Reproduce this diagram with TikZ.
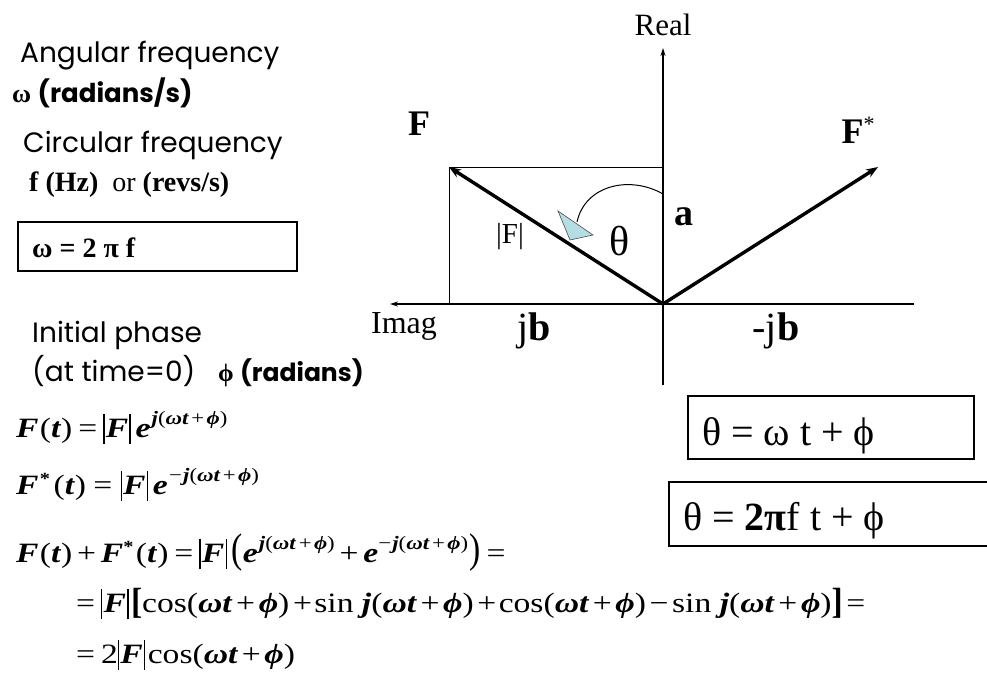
\documentclass[tikz,border=0pt]{standalone}
\usepackage{fontspec}
\setmainfont{Liberation Serif}
\newfontfamily\gothic{Poppins}
\usetikzlibrary{arrows.meta}
\definecolor{triblue}{RGB}{180,222,228}
\newcommand{\bi}[1]{\textbf{\textit{#1}}}
\newcommand{\fsz}[1]{\fontsize{#1}{#1}\selectfont}
\newcommand{\absb}{\rule[-7pt]{1.1pt}{30pt}}
\newcommand{\sups}[1]{\raisebox{13pt}{\fsz{19}#1}}
\newcommand{\stars}{\raisebox{10pt}{\fsz{17}\bfseries *}}
\newcommand{\tallp}[1]{\scalebox{1}[1.48]{#1}}
\newcommand{\tallb}[1]{\raisebox{-1pt}{\scalebox{1}[1.3]{\bfseries #1}}}
\newcommand{\absF}{\absb\kern1pt\bi{F}\kern1pt\absb}
\newcommand{\wtp}{\bi{ωt}\kern3pt+\kern3pt\bi{ϕ}}
\newcommand{\supx}{\bi{j}(\bi{ωt}\kern2pt+\kern2pt\bi{ϕ})}
\newcommand{\eqs}[1]{\scalebox{1.2}[1]{#1}}
\begin{document}
\begin{tikzpicture}[x=1pt,y=-1pt,
  lbl/.style={inner sep=0pt, anchor=base west},
  cen/.style={inner sep=0pt, anchor=base},
  sanstxt/.style={lbl, font=\gothic\fsz{28}},
  eqn/.style={lbl, font=\fsz{28}},
  axis/.style={line width=1.2pt, -{Stealth[length=8pt,width=5pt]}},
  vec/.style={line width=3.4pt, -{Stealth[length=12pt,width=9pt]}},
  thin/.style={line width=0.9pt},
  frame/.style={line width=2.4pt}]
\useasboundingbox[fill=white] (0,0) rectangle (987,673);

% left texts
\node[sanstxt] (ang) at (20,62) {Angular frequency};
\node[lbl, font=\fsz{26}] (omg) at (12,102) {\textbf{ω} {\gothic\bfseries (radians/s)}};
\node[sanstxt] (circ) at (23,152) {Circular frequency};
\node[lbl, font=\fsz{28}] (fhz) at (29,191) {\textbf{f (Hz)}\ \ or \textbf{(revs/s)}};
\draw[frame] (18,222) rectangle (297,271);
\node[lbl, font=\fsz{28}\bfseries] (wbox) at (32,257) {ω = 2 π f};
\node[sanstxt] (init) at (32,342) {Initial phase};
\node[sanstxt] (attime) at (32,381) {(at time=0)};
\node[lbl, font=\fsz{25}] (phirad) at (218,381) {\textbf{ϕ} {\gothic\bfseries (radians)}};

% phasor diagram
\coordinate (O) at (663,304);
\coordinate (rbot) at (663,385);
\coordinate (rtop) at (663,48);
\coordinate (iright) at (914,304);
\coordinate (ileft) at (390,304);
\coordinate (Ftip) at (449,167);
\coordinate (Fstip) at (878,167);
\coordinate (atop) at (663,167);
\coordinate (bleft) at (449,304);
\draw[axis] (rbot) -- (rtop);
\draw[axis] (iright) -- (ileft);
\draw[thin] (Ftip) -- (atop);
\draw[thin] (Ftip) -- (bleft);
\draw[vec] (O) -- (Ftip);
\draw[vec] (O) -- (Fstip);
\coordinate (arcs) at (663,194);
\coordinate (arce) at (577,222);
\draw[line width=1pt] (arcs) .. controls (630,175) and (585,185) .. (arce);
\filldraw[fill=triblue, draw=black!70, line width=0.6pt] (558,211) -- (593,235) -- (570,240) -- cycle;

\node[cen, font=\fsz{31}] (real) at (663,35) {Real};
\node[cen, font=\fsz{32}] (imag) at (404,333) {Imag};
\node[cen, font=\fsz{36}\bfseries] (F) at (419,135) {F};
\node[cen, font=\fsz{36}] (Fs) at (858,143) {\textbf{F}\raisebox{12pt}{\fsz{22}*}};
\node[cen, font=\fsz{38}\bfseries] (a) at (684,225) {a};
\node[cen, font=\fsz{42}] (theta) at (620,255) {θ};
\node[cen, font=\fsz{29}] (absF) at (510,243) {|F|};
\node[cen, font=\fsz{40}] (jb) at (534,340) {j\textbf{b}};
\node[cen, font=\fsz{40}] (mjb) at (776,340) {-j\textbf{b}};

% right boxes
\draw[frame] (688,396) rectangle (974,459);
\node[lbl, font=\fsz{40}] (t1) at (702,445) {θ = ω t + ϕ};
\draw[frame] (988,482) -- (669,482) -- (669,546) -- (988,546);
\node[lbl, font=\fsz{40}] (t2) at (683,530) {θ = \textbf{2π}f t + ϕ};

% equations
\node[eqn] (e1) at (16,437) {\eqs{\bi{F}\kern1pt(\bi{t})\kern5pt=\kern5pt\absF\kern4pt\bi{e}\kern1pt\sups{\supx}}};
\node[eqn] (e2) at (16,494) {\eqs{\bi{F}\kern1pt\stars\kern3pt(\bi{t})\kern6pt=\kern7pt\absF\kern4pt\bi{e}\kern1pt\sups{−\kern1pt\supx}}};
\node[eqn] (e3) at (16,562) {\eqs{\bi{F}\kern1pt(\bi{t})\kern4pt+\kern4pt\bi{F}\stars\kern2pt(\bi{t})\kern5pt=\kern5pt\absF\kern4pt\tallp{(}\bi{e}\kern1pt\sups{\supx}\kern4pt+\kern4pt\bi{e}\sups{−\kern1pt\supx}\kern1pt\tallp{)}\kern5pt=}};
\node[eqn] (e4) at (76,612) {\eqs{=\kern5pt\absF\kern2pt\tallb{[}cos(\wtp)\kern3pt+\kern2pt sin \bi{j}(\wtp)\kern3pt+\kern2pt cos(\wtp)\kern3pt−\kern3pt sin \bi{j}(\wtp)\tallb{]}\kern3pt=}};
\node[eqn] (e5) at (76,663) {\eqs{=\kern5pt2\absF\kern2pt cos(\wtp)}};
\end{tikzpicture}
\end{document}
